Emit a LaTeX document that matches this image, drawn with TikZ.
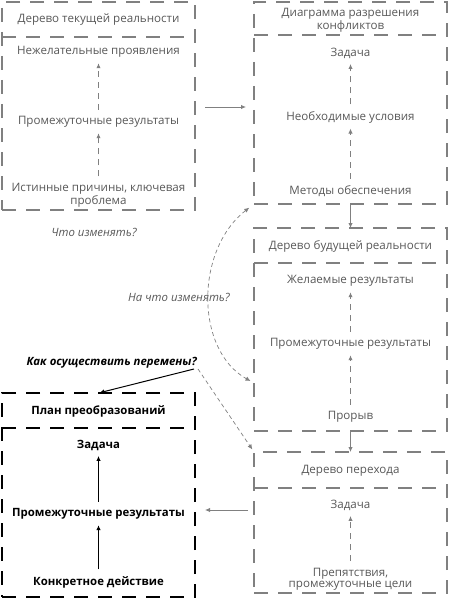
\documentclass[tikz,border=0pt]{standalone}
\usepackage{fontspec}
\setmainfont{Open Sans}
\usetikzlibrary{arrows.meta, positioning}
\definecolor{framegray}{RGB}{128,128,128}
\definecolor{textgray}{RGB}{88,88,88}

\begin{document}
\begin{tikzpicture}[x=1pt, y=-1pt, >={Latex[length=5pt,width=4.5pt]},
    frame/.style={draw=framegray, line width=1.3pt, dash pattern=on 14pt off 10pt, inner sep=0pt, outer sep=0pt, minimum width=193pt},
    planframe/.style={frame, draw=black, line width=1.6pt},
    item/.style={text=textgray, font=\fontsize{11.6}{11.5}\selectfont, align=center, inner sep=1.5pt},
    planitem/.style={item, text=black, font=\fontsize{11.4}{11.5}\selectfont\bfseries},
    query/.style={text=textgray, font=\fontsize{11.4}{11.5}\selectfont\itshape, inner sep=1pt},
    steparrow/.style={->, draw=framegray, line width=1.2pt, dash pattern=on 6pt off 5pt, shorten >=4pt, shorten <=5pt},
    planarrow/.style={->, draw=black, line width=1.5pt, shorten >=4pt, shorten <=5pt},
    flow/.style={->, draw=framegray, line width=0.9pt},
    questline/.style={->, draw=framegray, line width=0.7pt, dash pattern=on 4pt off 3pt}]

    \useasboundingbox (0,0) rectangle (450,599);

    % Frames
    \node[frame, minimum height=208pt] (crt) at (98.5,106) {};
    \node[frame, minimum height=202pt] (ecd) at (350.5,103) {};
    \node[frame, minimum height=203pt] (frt) at (350.5,329.5) {};
    \node[frame, minimum height=141pt] (trt) at (350.5,522.5) {};
    \node[planframe, minimum height=204pt] (plan) at (98.5,495) {};

    % Header dividers
    \draw[frame] ([yshift=-35pt]crt.north west) -- ([yshift=-35pt]crt.north east);
    \draw[frame] ([yshift=-33pt]ecd.north west) -- ([yshift=-33pt]ecd.north east);
    \draw[frame] ([yshift=-35pt]frt.north west) -- ([yshift=-35pt]frt.north east);
    \draw[frame] ([yshift=-36pt]trt.north west) -- ([yshift=-36pt]trt.north east);
    \draw[planframe] ([yshift=-35pt]plan.north west) -- ([yshift=-35pt]plan.north east);

    % Current reality tree
    \node[item] (crt-head) at (98.5,20) {Дерево текущей реальности};
    \node[item] (crt-top) at (98.5,52) {Нежелательные проявления};
    \node[item] (crt-mid) at (98.5,122) {Промежуточные результаты};
    \node[item] (crt-low) at (98.5,195) {Истинные причины, ключевая\\проблема};
    \draw[steparrow] (crt-mid) -- (crt-top);
    \draw[steparrow] (crt-low) -- (crt-mid);

    % Conflict diagram
    \node[item] (ecd-head) at (350.5,20) {Диаграмма разрешения\\конфликтов};
    \node[item] (ecd-top) at (350.5,53) {Задача};
    \node[item] (ecd-mid) at (350.5,117) {Необходимые условия};
    \node[item] (ecd-low) at (350.5,191) {Методы обеспечения};
    \draw[steparrow] (ecd-mid) -- (ecd-top);
    \draw[steparrow] (ecd-low) -- (ecd-mid);

    % Future reality tree
    \node[item] (frt-head) at (350.5,246) {Дерево будущей реальности};
    \node[item] (frt-top) at (350.5,281) {Желаемые результаты};
    \node[item] (frt-mid) at (350.5,344) {Промежуточные результаты};
    \node[item] (frt-low) at (350.5,417) {Прорыв};
    \draw[steparrow] (frt-mid) -- (frt-top);
    \draw[steparrow] (frt-low) -- (frt-mid);

    % Transition tree
    \node[item] (trt-head) at (350.5,471) {Дерево перехода};
    \node[item] (trt-top) at (350.5,505) {Задача};
    \node[item] (trt-low) at (350.5,579) {Препятствия,\\промежуточные цели};
    \draw[steparrow] (trt-low) -- (trt-top);

    % Transformation plan
    \node[planitem] (plan-head) at (98.5,411) {План преобразований};
    \node[planitem] (plan-top) at (98.5,445) {Задача};
    \node[planitem] (plan-mid) at (98.5,514) {Промежуточные результаты};
    \node[planitem] (plan-low) at (98.5,582) {Конкретное действие};
    \draw[planarrow] (plan-mid) -- (plan-top);
    \draw[planarrow] (plan-low) -- (plan-mid);

    % Questions
    \node[query] (what) at (94,232) {Что изменять?};
    \node[query] (towhat) at (179,297) {На что изменять?};
    \node[query, text=black, font=\fontsize{11.4}{11.5}\selectfont\bfseries\itshape, anchor=south east] (how) at (198,369) {Как осуществить перемены?};

    % Connections
    \draw[flow, shorten <=10pt, shorten >=8pt] ([yshift=-1pt]crt.east) -- ([yshift=-4pt]ecd.west);
    \draw[flow] (ecd.south) -- (frt.north);
    \draw[flow] (frt.south) -- (trt.north);
    \draw[flow, shorten <=6pt, shorten >=10pt] ([yshift=12.5pt]trt.west) -- ([yshift=-15pt]plan.east);
    \draw[questline, <->, shorten <=6pt, shorten >=4pt] (ecd.south west) .. controls (195,250) and (195,350) .. ([yshift=-53.5pt]frt.west);
    \draw[questline, shorten >=3pt] (how.south east) -- (trt.north west);
    \draw[->, draw=black, line width=1pt, shorten >=1pt] ([xshift=-4pt]how.south east) -- (plan.north);
\end{tikzpicture}
\end{document}
